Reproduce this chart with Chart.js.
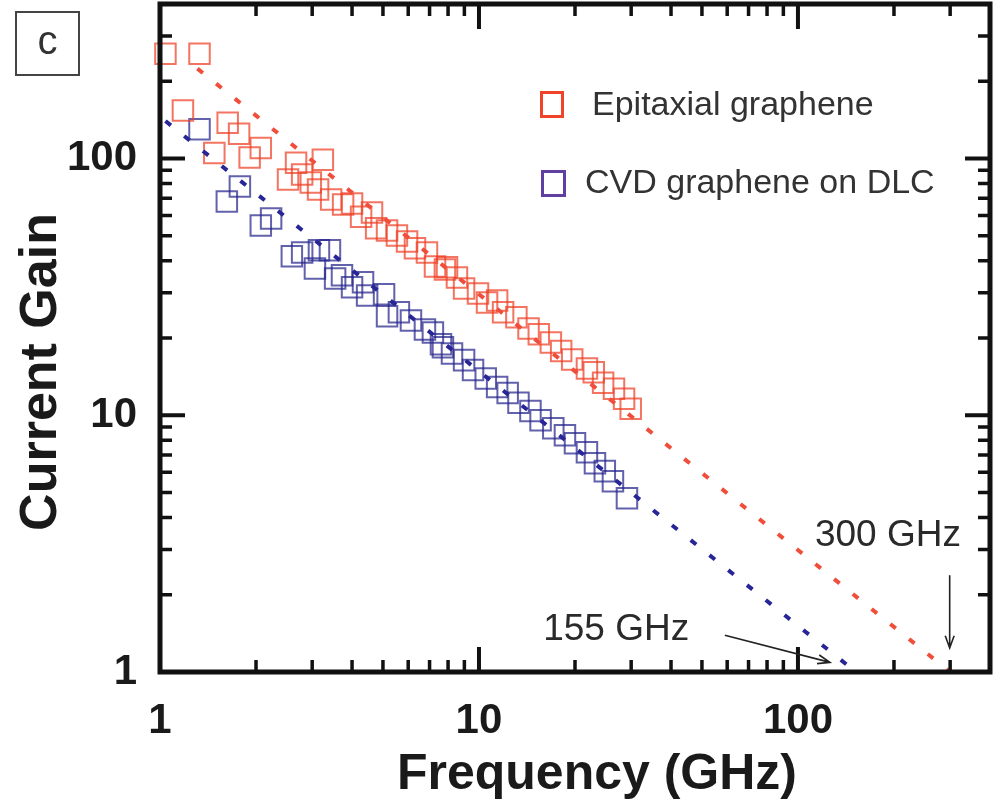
<!DOCTYPE html>
<html>
<head>
<meta charset="utf-8">
<script src="https://cdn.jsdelivr.net/npm/chart.js@4.4.1/dist/chart.umd.min.js"></script>
<style>
    body { margin: 0; background: #fff; }
    canvas { display: block; }
</style>
</head>
<body>
<canvas id="gainChart" width="1003" height="805"></canvas>
<script>
// Epitaxial graphene (red squares)
const epiFreq = [1.04, 1.18, 1.33, 1.48, 1.63, 1.77, 1.91, 2.07, 2.52, 2.67, 2.79, 2.97, 3.13, 3.24, 3.44, 3.75, 4.0, 4.27, 4.62, 4.76,
    5.15, 5.53, 5.95, 6.3, 6.87, 7.28, 7.82, 7.94, 8.53, 8.98, 9.93, 10.6, 11.4, 11.9, 13.1, 14.3, 15.4, 16.8, 18.1, 19.6,
    21.8, 22.9, 24.5, 26.5, 28.5, 29.9];
const epiGain = [256, 154, 256, 105, 138, 125, 101, 110, 82.8, 96.4, 86.7, 80.7, 75.7, 99, 69.2, 66.2, 66.8, 59.4, 61.7, 53.5,
    52.5, 50.2, 47.5, 44.7, 43.1, 38.0, 37.0, 37.7, 34.4, 31.2, 29.8, 27.5, 28.0, 25.2, 24.1, 21.8, 20.7, 19.2, 17.8, 16.5,
    15.2, 14.7, 13.4, 12.7, 11.6, 10.6];

// CVD graphene on DLC (blue squares)
const cvdFreq = [1.33, 1.62, 1.78, 2.07, 2.23, 2.59, 2.79, 3.06, 3.15, 3.41, 3.54, 3.72, 4.0, 4.33, 4.46, 5.04, 5.15, 5.61, 6.12, 6.77,
    7.17, 7.6, 7.71, 8.23, 8.98, 9.58, 10.5, 11.4, 12.3, 13.3, 14.5, 15.6, 17.1, 18.6, 20.0, 21.8, 23.1, 24.8, 26.3, 29.1];
const cvdGain = [130, 68, 77.8, 54.9, 58.4, 41.6, 43.1, 37.3, 43.9, 43.9, 34.1, 35.1, 31.5, 33.0, 29.3, 29.6, 24.3, 25.2, 23.4, 21.6,
    21.0, 18.9, 18.4, 17.4, 16.4, 15.0, 13.9, 12.9, 12.2, 11.2, 10.4, 9.56, 8.9, 8.36, 7.78, 7.18, 6.5, 6.06, 5.53, 4.75];

// Extrapolated -20 dB/dec fits
const epiFitFreq = [1.31, 300];
const epiFitGain = [224, 1];
const cvdFitFreq = [1.04, 152];
const cvdFitGain = [140, 1];

// Axis ticks
const xMajorTicks = [1, 10, 100];
const yMajorTicks = [1, 10, 100];
const minorTicks = [2, 3, 4, 5, 6, 7, 8, 9, 20, 30, 40, 50, 60, 70, 80, 90, 200, 300];

const labels = ['Epitaxial graphene', 'CVD graphene on DLC'];

const RED = 'rgba(238, 62, 36, 0.72)';
const BLUE = 'rgba(38, 36, 140, 0.72)';
const FONT = "Arial, 'Liberation Sans', Helvetica, sans-serif";

function toPoints(xs, ys) {
    return xs.map((x, i) => ({ x: x, y: ys[i] }));
}

// Desenha moldura, ticks internos, legenda e anotações
const extrasPlugin = {
    id: 'extras',
    afterDraw(chart) {
        const ctx = chart.ctx;
        const area = chart.chartArea;
        const xs = chart.scales.x;
        const ys = chart.scales.y;
        const px = v => xs.getPixelForValue(v);
        const py = v => ys.getPixelForValue(v);

        ctx.save();
        ctx.strokeStyle = '#111';
        ctx.lineCap = 'butt';

        // ticks
        const drawX = (v, len, w) => {
            const x = px(v);
            ctx.lineWidth = w;
            ctx.beginPath();
            ctx.moveTo(x, area.bottom); ctx.lineTo(x, area.bottom - len);
            ctx.moveTo(x, area.top); ctx.lineTo(x, area.top + len);
            ctx.stroke();
        };
        const drawY = (v, len, w) => {
            const y = py(v);
            ctx.lineWidth = w;
            ctx.beginPath();
            ctx.moveTo(area.left, y); ctx.lineTo(area.left + len, y);
            ctx.moveTo(area.right, y); ctx.lineTo(area.right - len, y);
            ctx.stroke();
        };
        minorTicks.forEach(v => { drawX(v, 12, 3.5); drawY(v, 12, 3.5); });
        xMajorTicks.forEach(v => drawX(v, 25, 4));
        yMajorTicks.forEach(v => drawY(v, 25, 4));

        // moldura
        ctx.lineWidth = 5;
        ctx.strokeRect(area.left, area.top, area.right - area.left, area.bottom - area.top);

        // títulos dos eixos
        ctx.fillStyle = '#1a1a1a';
        ctx.font = 'bold 50px ' + FONT;
        ctx.textAlign = 'center';
        ctx.textBaseline = 'middle';
        ctx.fillText('Frequency (GHz)', 597, 775);
        ctx.save();
        ctx.translate(42, 372);
        ctx.rotate(-Math.PI / 2);
        ctx.font = 'bold 52px ' + FONT;
        ctx.fillText('Current Gain', 0, 0);
        ctx.restore();

        // legenda
        ctx.lineWidth = 3;
        ctx.strokeStyle = '#f0442a';
        ctx.strokeRect(541.5, 92.5, 21, 24);
        ctx.strokeStyle = '#5f3fa0';
        ctx.strokeRect(542.5, 171.5, 22, 24);
        ctx.fillStyle = '#333';
        ctx.font = '34px ' + FONT;
        ctx.textAlign = 'left';
        ctx.fillText(chart.data.datasets[2].label, 592, 106);
        ctx.fillText(chart.data.datasets[3].label, 585, 184);

        // anotações
        ctx.font = '37px ' + FONT;
        ctx.fillStyle = '#2a2a2a';
        ctx.fillText('300 GHz', px(113), py(3.4));
        ctx.fillText('155 GHz', px(15.9), py(1.46));

        const arrow = (x1, y1, x2, y2) => {
            const a = Math.atan2(y2 - y1, x2 - x1);
            const h = 13;
            ctx.strokeStyle = '#222';
            ctx.lineWidth = 1.6;
            ctx.beginPath();
            ctx.moveTo(x1, y1); ctx.lineTo(x2, y2);
            ctx.moveTo(x2 - h * Math.cos(a - 0.35), y2 - h * Math.sin(a - 0.35));
            ctx.lineTo(x2, y2);
            ctx.lineTo(x2 - h * Math.cos(a + 0.35), y2 - h * Math.sin(a + 0.35));
            ctx.stroke();
        };
        arrow(px(299), py(2.38), px(299), py(1.24));
        arrow(px(59), py(1.39), px(126), py(1.09));

        // rótulo do painel
        ctx.strokeStyle = '#444';
        ctx.lineWidth = 2;
        ctx.strokeRect(16, 12, 63, 63);
        ctx.fillStyle = '#333';
        ctx.font = '40px ' + FONT;
        ctx.textAlign = 'center';
        ctx.textBaseline = 'alphabetic';
        ctx.fillText('c', 47.5, 54);

        ctx.restore();
    }
};

const tickFont = { family: FONT, size: 42, weight: 'bold' };

new Chart(document.getElementById('gainChart'), {
    type: 'scatter',
    data: {
        datasets: [
            {
                label: 'fit epi',
                data: toPoints(epiFitFreq, epiFitGain),
                showLine: true,
                borderColor: 'rgb(240, 78, 58)',
                borderWidth: 4,
                borderDash: [7, 17],
                pointRadius: 0,
                clip: false
            },
            {
                label: 'fit cvd',
                data: toPoints(cvdFitFreq, cvdFitGain),
                showLine: true,
                borderColor: 'rgb(40, 38, 150)',
                borderWidth: 4,
                borderDash: [7, 17],
                pointRadius: 0,
                clip: false
            },
            {
                label: labels[0],
                data: toPoints(epiFreq, epiGain),
                pointStyle: 'rect',
                pointRadius: 14.5,
                pointBorderWidth: 2,
                pointBorderColor: RED,
                pointBackgroundColor: 'rgba(255,255,255,0)',
                clip: false
            },
            {
                label: labels[1],
                data: toPoints(cvdFreq, cvdGain),
                pointStyle: 'rect',
                pointRadius: 14.5,
                pointBorderWidth: 2,
                pointBorderColor: BLUE,
                pointBackgroundColor: 'rgba(255,255,255,0)',
                clip: false
            }
        ]
    },
    options: {
        responsive: false,
        animation: false,
        layout: { autoPadding: false, padding: { left: 0, right: 13, top: 4, bottom: 0 } },
        plugins: {
            legend: { display: false },
            tooltip: { enabled: false }
        },
        scales: {
            x: {
                type: 'logarithmic',
                min: 1,
                max: 400,
                grid: { display: false },
                border: { display: false },
                afterFit: s => { s.height = 133; s.paddingLeft = 0; s.paddingRight = 0; },
                afterBuildTicks: s => { s.ticks = xMajorTicks.map(v => ({ value: v })); },
                ticks: {
                    autoSkip: false,
                    maxRotation: 0,
                    padding: 16,
                    color: '#1a1a1a',
                    font: tickFont,
                    callback: v => String(v)
                }
            },
            y: {
                type: 'logarithmic',
                min: 1,
                max: 400,
                grid: { display: false },
                border: { display: false },
                afterFit: s => { s.width = 160; s.paddingTop = 0; s.paddingBottom = 0; },
                afterBuildTicks: s => { s.ticks = yMajorTicks.map(v => ({ value: v })); },
                ticks: {
                    autoSkip: false,
                    padding: 15,
                    color: '#1a1a1a',
                    font: tickFont,
                    callback: v => String(v)
                }
            }
        }
    },
    plugins: [extrasPlugin]
});
</script>
</body>
</html>
